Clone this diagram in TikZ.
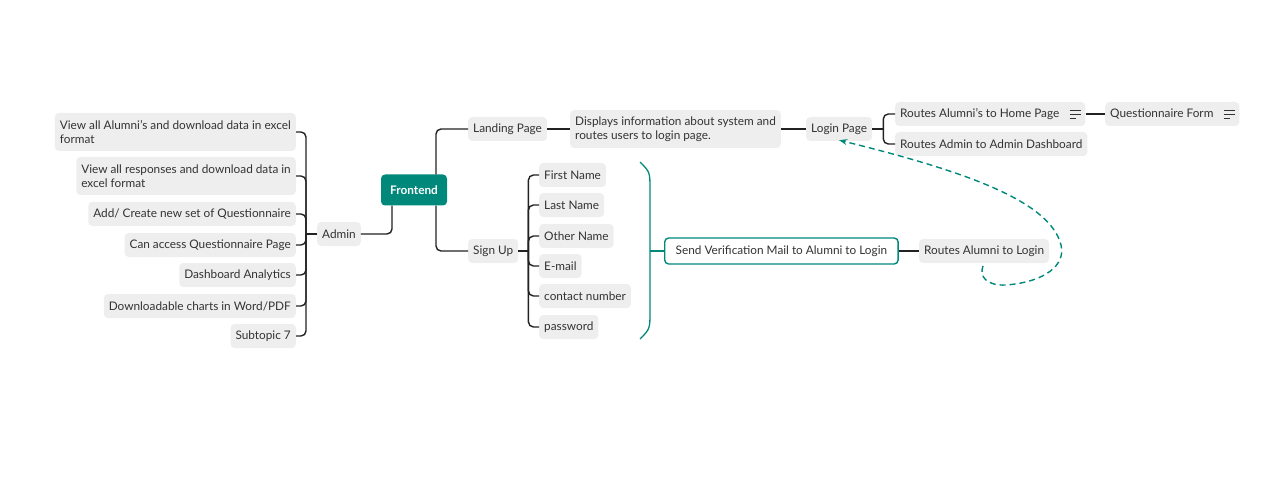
\documentclass[tikz,border=0pt]{standalone}
\usepackage{fontspec}
\setmainfont{Lato}
\usetikzlibrary{arrows.meta}
\definecolor{teal1}{RGB}{0,137,123}
\definecolor{boxgray}{RGB}{238,238,238}
\definecolor{txt}{RGB}{51,51,51}
\definecolor{ln}{RGB}{34,34,34}
\begin{document}
\begin{tikzpicture}[x=1pt,y=-1pt,
  topic/.style={fill=boxgray,rounded corners=4pt,minimum height=24pt,inner xsep=5pt,inner ysep=3pt,text=txt,font=\fontsize{11.8}{14}\selectfont},
  topic2/.style={topic,align=left},
  conn/.style={draw=ln,line width=1.4pt,rounded corners=5pt},
  note/.style={draw=txt,line width=0.8pt}
]
\useasboundingbox (0,0) rectangle (1287,489);
% central
\node[fill=teal1,rounded corners=4pt,minimum width=66pt,minimum height=31pt,text=white,font=\fontsize{11.8}{14}\selectfont\bfseries] (fe) at (414,190) {Frontend};
\node[topic,anchor=west] (admin) at (317,234) {Admin};
% admin items
\node[topic2,anchor=east,minimum height=38pt] (a1) at (296,132) {View all Alumni's and download data in excel\\format};
\node[topic2,anchor=east,minimum height=38pt] (a2) at (296,176) {View all responses and download data in\\excel format};
\node[topic,anchor=east] (a3) at (296,214) {Add/ Create new set of Questionnaire};
\node[topic,anchor=east] (a4) at (296,245) {Can access Questionnaire Page};
\node[topic,anchor=east] (a5) at (296,275) {Dashboard Analytics};
\node[topic,anchor=east] (a6) at (296,306) {Downloadable charts in Word/PDF};
\node[topic,anchor=east] (a7) at (296,336) {Subtopic 7};
\coordinate (aj) at ([xshift=-11pt]admin.west);
\draw[conn] (admin.west) -- (aj);
\foreach \i in {1,...,7}{\draw[conn] (aj) |- (a\i.east);}
% landing
\node[topic,anchor=west] (land) at (468,129) {Landing Page};
\node[topic2,anchor=west,minimum height=38pt] (disp) at (570,129) {Displays information about system and\\routes users to login page.};
\node[topic,anchor=west] (login) at (806,129) {Login Page};
\node[topic,anchor=west] (ra) at (895,114) {Routes Alumni's to Home Page\kern21pt};
\node[topic,anchor=west] (rd) at (895,144) {Routes Admin to Admin Dashboard};
\node[topic,anchor=west] (qf) at (1105,114) {Questionnaire Form\kern21pt};
\foreach \n in {ra,qf}{
  \draw[note] ([xshift=-16pt,yshift=4pt]\n.east) -- ++(11,0);
  \draw[note] ([xshift=-16pt]\n.east) -- ++(11,0);
  \draw[note] ([xshift=-16pt,yshift=-4pt]\n.east) -- ++(6,0);
}
% sign up
\node[topic,anchor=west] (su) at (468,251) {Sign Up};
\node[topic,anchor=west] (f1) at (539,175) {First Name};
\node[topic,anchor=west] (f2) at (539,205) {Last Name};
\node[topic,anchor=west] (f3) at (539,236) {Other Name};
\node[topic,anchor=west] (f4) at (539,266) {E-mail};
\node[topic,anchor=west] (f5) at (539,296) {contact number};
\node[topic,anchor=west] (f6) at (539,327) {password};
\coordinate (sj) at ([xshift=10pt]su.east);
\draw[conn] (su.east) -- (sj);
\foreach \i in {1,...,6}{\draw[conn] (sj) |- (f\i.west);}
\node[draw=teal1,line width=1.4pt,fill=white,rounded corners=4pt,minimum height=26pt,inner xsep=11pt,text=txt,font=\fontsize{11.8}{14}\selectfont,anchor=west] (send) at (664,251) {Send Verification Mail to Alumni to Login};
\node[topic,anchor=west] (ral) at ([xshift=20pt]send.east) {Routes Alumni to Login};
% connectors
\draw[conn] ([xshift=-22pt]fe.south) |- (admin.east);
\draw[conn] ([xshift=22pt]fe.north) |- (land.west);
\draw[conn] ([xshift=22pt]fe.south) |- (su.west);
\draw[conn] (land) -- (disp);
\draw[conn] (disp) -- (login);
\coordinate (lj) at ([xshift=11pt]login.east);
\draw[conn] (login.east) -- (lj);
\draw[conn] (lj) |- (ra.west);
\draw[conn] (lj) |- (rd.west);
\draw[conn] (ra) -- (qf);
\draw[conn] (send) -- (ral);
% teal brace
\coordinate (bt) at (640,162);
\coordinate (bb) at (640,339);
\draw[draw=teal1,line width=1.3pt] (bt) .. controls (650,172) .. (650,190) -- (650,311) .. controls (650,329) .. (bb);
\draw[draw=teal1,line width=1.3pt] (650,251) -- (send.west);
% dashed relation
\coordinate (ds) at (983,266);
\draw[draw=teal1,line width=1.4pt,dash pattern=on 6pt off 4pt,-{Stealth[length=8pt,width=6pt]}] (ds) .. controls (979,276) and (986,286) .. (1006,285) .. controls (1045,282) and (1066,265) .. (1061,245) .. controls (1050,200) and (960,170) .. ([yshift=1pt]login.south);
\end{tikzpicture}
\end{document}
